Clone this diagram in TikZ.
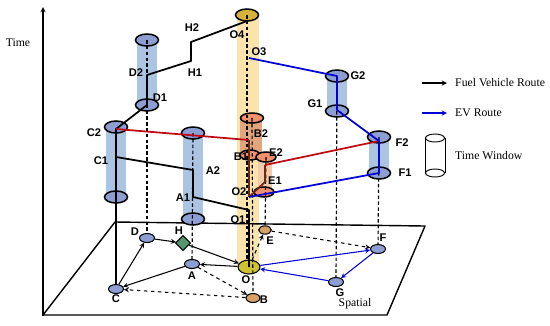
\documentclass[tikz,border=0pt]{standalone}
\usepackage{fontspec}
\setmainfont{Liberation Serif}
\setsansfont{Liberation Sans}
\usetikzlibrary{shapes.geometric}

\definecolor{twblue}{RGB}{170,196,226}
\definecolor{spotblue}{RGB}{140,158,210}
\definecolor{depotcol}{RGB}{250,228,172}
\definecolor{golden}{RGB}{214,178,58}
\definecolor{olivespot}{RGB}{204,194,52}
\definecolor{salmon}{RGB}{240,145,110}
\definecolor{tanspot}{RGB}{214,160,102}
\definecolor{bcol}{RGB}{224,166,126}
\definecolor{ecol}{RGB}{242,204,172}
\definecolor{evblue}{RGB}{0,0,215}
\definecolor{darkred}{RGB}{190,10,20}
\definecolor{brownline}{RGB}{110,40,20}
\definecolor{leafgreen}{RGB}{84,150,112}

\tikzset{
	twell/.style={ellipse, draw, line width=1.3pt, fill=spotblue, minimum width=6.9mm, minimum height=3.6mm, inner sep=0pt},
	spot/.style={ellipse, draw, line width=0.9pt, fill=spotblue, minimum width=4.5mm, minimum height=2.7mm, inner sep=0pt},
	lbl/.style={font=\sffamily\bfseries\fontsize{9.5}{11}\selectfont, inner sep=0pt},
	txt/.style={font=\fontsize{10}{12}\selectfont, inner sep=0pt},
	proj/.style={line width=1pt, dash pattern=on 3pt off 2pt},
	route/.style={line width=1.5pt, line join=round},
	flow/.style={->, line width=0.9pt},
}

\begin{document}
\begin{tikzpicture}[>=stealth, x=0.3mm, y=-0.3mm]
	\useasboundingbox (0,0) rectangle (550,325);

	% time axis
	\draw[->, line width=1pt] (43,316) -- (43,7);
	\node[txt] (timeLabel) at (18,43) {Time};

	% columns of the time windows
	\fill[depotcol] (237,15) rectangle (259,267);
	\foreach \px/\ya/\yb in {116/127/197, 147/40/105, 193/133/219, 337/76/111, 379/137/173}
		\fill[twblue] ({\px-10},\ya) rectangle ({\px+10},\yb);
	\fill[bcol] (240,118) rectangle (262,155);
	\fill[ecol] (258,155) rectangle (272,192);

	% spatial plane
	\draw[line width=1.2pt, line join=round] (43,315) -- (115,222) -- (425,226) -- (387,315) -- cycle;

	% customers and depot on the plane
	\node[spot] (D) at (147,238) {};
	\node[diamond, draw, fill=leafgreen, line width=0.9pt, minimum size=4.5mm, inner sep=0pt] (H) at (183,243) {};
	\node[spot] (A) at (192,264) {};
	\node[spot] (C) at (116,289) {};
	\node[spot, fill=olivespot, minimum width=6.6mm, minimum height=4.2mm] (O) at (249,267) {};
	\node[spot, fill=tanspot, minimum width=4.2mm] (B) at (253,298) {};
	\node[spot, fill=tanspot, minimum width=3.8mm, minimum height=2.5mm] (E) at (265,230) {};
	\node[spot] (F) at (378,249) {};
	\node[spot] (G) at (336,282) {};

	% time window ellipses
	\foreach \n/\px/\py in {Ctop/116/127, Cbot/116/197, Dtop/147/40, Dbot/147/105, Atop/193/133, Abot/193/219, Gtop/337/76, Gbot/337/111, Ftop/379/137, Fbot/379/173}
		\node[twell] (\n) at (\px,\py) {};
	\node[twell, fill=golden] (Otop) at (247,15) {};
	\node[twell, fill=salmon, minimum height=3mm] (Btop) at (252,118) {};
	\node[twell, fill=salmon, minimum width=6mm, minimum height=3mm] (Bbot) at (250,155) {};
	\node[twell, fill=salmon, minimum width=6mm, minimum height=3mm] (Etop) at (266,157) {};
	\node[twell, fill=salmon, minimum width=6mm, minimum height=3mm] (Ebot) at (264,192) {};

	% projections down to the plane
	\draw[proj] (Dtop.center) -- (D);
	\draw[proj] (Atop.center) -- (A);
	\draw[proj] (Otop.center) -- (Otop.center |- O.north);
	\draw[proj] (Btop.center) -- (B);
	\draw[proj] (Etop.center) -- (E);
	\draw[proj] (Gtop.center) -- (G);
	\draw[proj] (Ftop.center) -- (F);

	% moves on the plane
	\draw[flow] (C) -- (D);
	\draw[flow] (D) -- (H);
	\draw[flow] (H) -- (O);
	\draw[flow] (O) -- (A);
	\draw[flow] (A) -- (C);
	\draw[flow, dashed] (A) -- (B);
	\draw[flow, dashed] (B) -- (C);
	\draw[flow, dashed] (O) -- (E);
	\draw[flow, dashed] (E) -- (F);
	\draw[flow, evblue] (O) -- (F);
	\draw[flow, evblue] (F) -- (G);
	\draw[flow, evblue] (G) -- (O);

	% points of the routes in time
	\coordinate (O1) at (249,210);
	\coordinate (O2) at (249,197);
	\coordinate (O3) at (249,58);
	\coordinate (O4) at (247,21);
	\coordinate (A1) at (193,197);
	\coordinate (A2) at (193,170);
	\coordinate (C1) at (116,157);
	\coordinate (C2) at (116,129);
	\coordinate (D1) at (147,105);
	\coordinate (D2) at (147,75);
	\coordinate (H1) at (191,61);
	\coordinate (H2) at (191,42);
	\coordinate (B2) at (249,140);
	\coordinate (E2) at (265,165);
	\coordinate (Ebend) at (265,182);
	\coordinate (G2) at (337,76);
	\coordinate (G1) at (337,110);
	\coordinate (F2) at (379,141);
	\coordinate (F1) at (379,173);

	% fuel vehicle route
	\draw[line width=1pt] (C1) -- (C);
	\draw[route] (O.center) -- (O1) -- (A1) -- (A2) -- (C1) -- (C2) -- (D1) -- (D2) -- (H1) -- (H2) -- (O4);

	% EV routes
	\draw[route, darkred] (C2) -- (B2);
	\draw[route, brownline] (B2) -- (O2);
	\draw[route, brownline] (E2) -- (Ebend) -- (O2);
	\draw[route, darkred] (E2) -- (F2);
	\draw[route, evblue] (O3) -- (G2) -- (G1) -- (F2) -- (F1) -- (O2);

	% labels
	\foreach \t/\px/\py in {H2/192/28, H1/195/73, D2/136/73, D1/160/98, C2/94/133, C1/101/161, A2/213/171, A1/183/198, O1/238/220, O2/239/192, O3/259/52, O4/237/35, B2/261/134, B1/241/157, E2/276/153, E1/275/181, G2/358/76, G1/315/104, F2/402/143, F1/405/173}
		\node[lbl] (lab\t) at (\px,\py) {\t};
	\foreach \t/\px/\py in {D/135/232, H/179/231, A/192/276, C/116/299, O/246/280, B/264/300, E/270/241, F/383/238, G/340/293}
		\node[lbl] (lab\t) at (\px,\py) {\t};
	\node[txt] (spatialLabel) at (355,304) {Spatial};

	% legend
	\coordinate (fuelTail) at (422,83);
	\node[txt, anchor=west] (fuelText) at (455,83) {Fuel Vehicle Route};
	\draw[->, line width=1pt] (fuelTail) -- ++(25,0);
	\coordinate (evTail) at (422,113);
	\node[txt, anchor=west] (evText) at (455,113) {EV Route};
	\draw[->, line width=1pt, evblue] (evTail) -- ++(25,0);
	\node[ellipse, draw, line width=0.8pt, minimum width=5.7mm, minimum height=2.4mm, inner sep=0pt] (legTop) at (435,138) {};
	\node[ellipse, draw, line width=0.8pt, minimum width=5.7mm, minimum height=2.4mm, inner sep=0pt] (legBot) at (435,173) {};
	\draw[line width=0.8pt] (legTop.west) -- (legBot.west) (legTop.east) -- (legBot.east);
	\node[txt, anchor=west] (twText) at (455,156) {Time Window};
\end{tikzpicture}
\end{document}
